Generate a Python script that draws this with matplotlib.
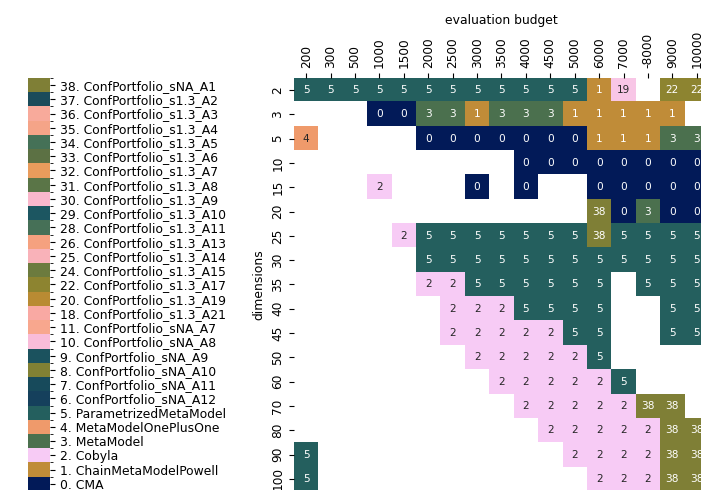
import matplotlib
matplotlib.use("Agg")
import matplotlib.pyplot as plt
import matplotlib.colors as mcolors
import matplotlib.cm as cm
import numpy as np

# budgets (columns) and dimensions (rows)
budgets = ["200", "300", "500", "1000", "1500", "2000", "2500", "3000", "3500",
           "4000", "4500", "5000", "6000", "7000", "-8000", "9000", "10000"]
dims = ["2", "3", "5", "10", "15", "20", "25", "30", "35", "40", "45", "50",
        "60", "70", "80", "90", "100"]

# algorithm ids shown in the colorbar legend, with their names
algo_ids = [0, 1, 2, 3, 4, 5, 6, 7, 8, 9, 10, 11, 18, 20, 22, 24, 25, 26,
            28, 29, 30, 31, 32, 33, 34, 35, 36, 37, 38]
algo_names = ["CMA", "ChainMetaModelPowell", "Cobyla", "MetaModel",
              "MetaModelOnePlusOne", "ParametrizedMetaModel",
              "ConfPortfolio_sNA_A12", "ConfPortfolio_sNA_A11",
              "ConfPortfolio_sNA_A10", "ConfPortfolio_sNA_A9",
              "ConfPortfolio_sNA_A8", "ConfPortfolio_sNA_A7",
              "ConfPortfolio_s1.3_A21", "ConfPortfolio_s1.3_A19",
              "ConfPortfolio_s1.3_A17", "ConfPortfolio_s1.3_A15",
              "ConfPortfolio_s1.3_A14", "ConfPortfolio_s1.3_A13",
              "ConfPortfolio_s1.3_A11", "ConfPortfolio_s1.3_A10",
              "ConfPortfolio_s1.3_A9", "ConfPortfolio_s1.3_A8",
              "ConfPortfolio_s1.3_A7", "ConfPortfolio_s1.3_A6",
              "ConfPortfolio_s1.3_A5", "ConfPortfolio_s1.3_A4",
              "ConfPortfolio_s1.3_A3", "ConfPortfolio_s1.3_A2",
              "ConfPortfolio_sNA_A1"]
algo_colors = ["#021a58", "#c08c38", "#f7cbf5", "#4b704e", "#ef9a6b",
               "#245f5e", "#15405c", "#174a5b", "#818134", "#1b525e",
               "#f9bcd9", "#f8a78e", "#f9a9a3", "#b98b33", "#8d8430",
               "#6c7b3e", "#f9b2b9", "#f5a17f", "#467057", "#1c5661",
               "#fab8cc", "#5a7547", "#e99c5c", "#5c7144", "#457157",
               "#f5a488", "#f8aa9b", "#1b4b5a", "#7f7f36"]
# id 19 appears in the grid but not in the legend
extra_ids = [19]
extra_colors = ["#f8c6e6"]

N = None
# best algorithm id per (dimension, budget)
best = [
    [5, 5, 5, 5, 5, 5, 5, 5, 5, 5, 5, 5, 1, 19, N, 22, 22],
    [N, N, N, 0, 0, 3, 3, 1, 3, 3, 3, 1, 1, 1, 1, 1, N],
    [4, N, N, N, N, 0, 0, 0, 0, 0, 0, 0, 1, 1, 1, 3, 3],
    [N, N, N, N, N, N, N, N, N, 0, 0, 0, 0, 0, 0, 0, 0],
    [N, N, N, 2, N, N, N, 0, N, 0, N, N, 0, 0, 0, 0, 0],
    [N, N, N, N, N, N, N, N, N, N, N, N, 38, 0, 3, 0, 0],
    [N, N, N, N, 2, 5, 5, 5, 5, 5, 5, 5, 38, 5, 5, 5, 5],
    [N, N, N, N, N, 5, 5, 5, 5, 5, 5, 5, 5, 5, 5, 5, 5],
    [N, N, N, N, N, 2, 2, 5, 5, 5, 5, 5, 5, N, 5, 5, 5],
    [N, N, N, N, N, N, 2, 2, 2, 5, 5, 5, 5, N, N, 5, 5],
    [N, N, N, N, N, N, 2, 2, 2, 2, 2, 5, 5, N, N, 5, 5],
    [N, N, N, N, N, N, N, 2, 2, 2, 2, 2, 5, N, N, N, N],
    [N, N, N, N, N, N, N, N, 2, 2, 2, 2, 2, 5, N, N, N],
    [N, N, N, N, N, N, N, N, N, 2, 2, 2, 2, 2, 38, 38, N],
    [N, N, N, N, N, N, N, N, N, N, 2, 2, 2, 2, 2, 38, 38],
    [5, N, N, N, N, N, N, N, N, N, N, 2, 2, 2, 2, 38, 38],
    [5, N, N, N, N, N, N, N, N, N, N, N, 2, 2, 2, 38, 38],
]


def text_color(hexcol):
    # same rule as seaborn's annotations
    r, g, b = mcolors.to_rgb(hexcol)
    lin = [c / 12.92 if c <= 0.03928 else ((c + 0.055) / 1.055) ** 2.4 for c in (r, g, b)]
    lum = 0.2126 * lin[0] + 0.7152 * lin[1] + 0.0722 * lin[2]
    return ".15" if lum > .408 else "w"


def main():
    all_ids = algo_ids + extra_ids
    all_colors = algo_colors + extra_colors
    pos = {a: i for i, a in enumerate(all_ids)}

    grid = np.full((len(dims), len(budgets)), np.nan)
    for i, row in enumerate(best):
        for j, v in enumerate(row):
            if v is not None:
                grid[i, j] = pos[v]

    cmap = mcolors.ListedColormap(all_colors)
    cmap.set_bad("white")
    norm = mcolors.BoundaryNorm(np.arange(len(all_ids) + 1) - 0.5, len(all_ids))

    fig = plt.figure(figsize=(7.01, 4.9), dpi=100)
    ax = fig.add_axes([0.4194, -0.002, 0.592, 0.843])
    ax.imshow(np.ma.masked_invalid(grid), cmap=cmap, norm=norm,
              aspect="auto", interpolation="nearest")

    for i, row in enumerate(best):
        for j, v in enumerate(row):
            if v is None:
                continue
            ax.text(j, i, str(v), ha="center", va="center", fontsize=7.6,
                    color=text_color(all_colors[pos[v]]))

    ax.xaxis.tick_top()
    ax.xaxis.set_label_position("top")
    ax.set_xticks(range(len(budgets)))
    ax.set_xticklabels(budgets, rotation=90, fontsize=8.7)
    ax.set_yticks(range(len(dims)))
    ax.set_yticklabels(dims, rotation=90, va="center", fontsize=8.7)
    ax.set_xlabel("evaluation budget", fontsize=8.9)
    ax.set_ylabel("dimensions", fontsize=8.9)
    for s in ax.spines.values():
        s.set_visible(False)

# legend colorbar on the left
    cax = fig.add_axes([0.04, -0.002, 0.0314, 0.843])
    lcmap = mcolors.ListedColormap(algo_colors)
    lnorm = mcolors.BoundaryNorm(np.arange(len(algo_ids) + 1) - 0.5, len(algo_ids))
    cb = fig.colorbar(cm.ScalarMappable(norm=lnorm, cmap=lcmap), cax=cax,
                      ticks=range(len(algo_ids)))
    cb.ax.set_yticklabels([f"{a}. {n}" for a, n in zip(algo_ids, algo_names)],
                          fontsize=8.9)
    cb.outline.set_visible(False)

    fig.savefig("out.png", dpi=100)


if __name__ == "__main__":
    main()
